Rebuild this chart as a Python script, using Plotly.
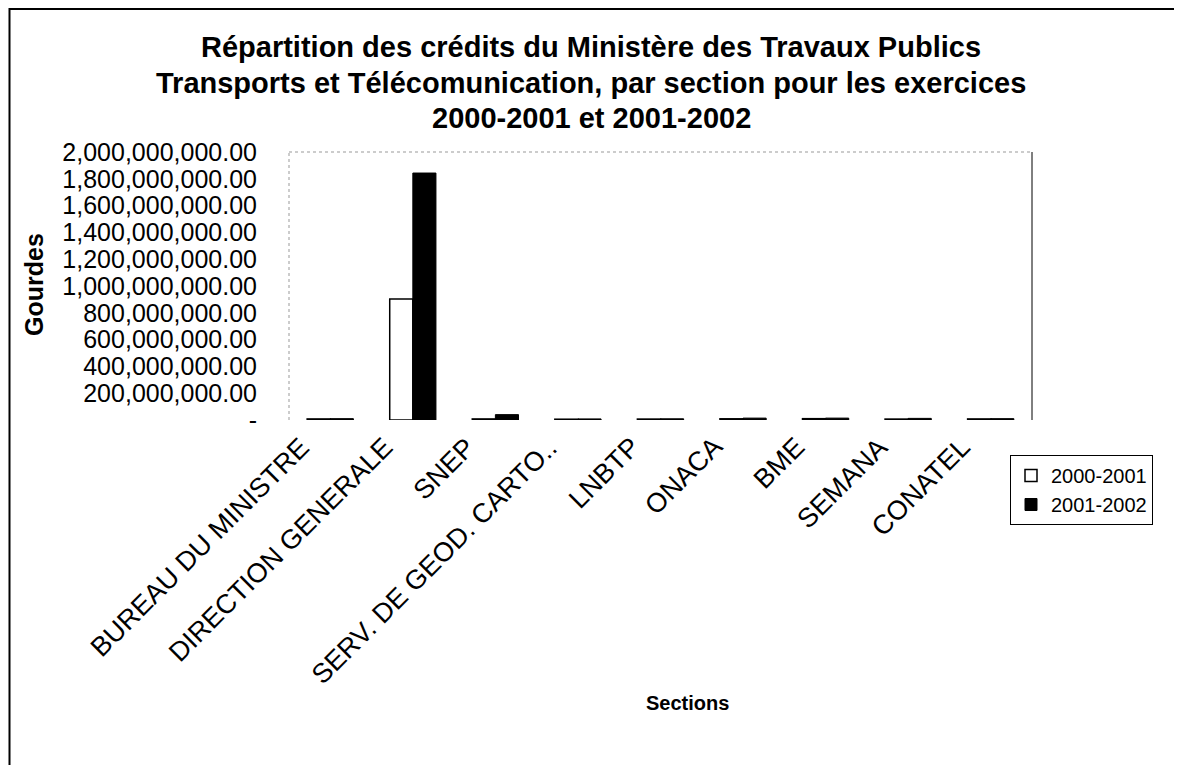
import plotly.graph_objects as go

sections = ["BUREAU DU MINISTRE", "DIRECTION GENERALE", "SNEP", "SERV. DE GEOD. CARTO..",
            "LNBTP", "ONACA", "BME", "SEMANA", "CONATEL"]
credits_2000_2001 = [8e6, 903e6, 8e6, 6e6, 7e6, 9e6, 10e6, 7e6, 8e6]
credits_2001_2002 = [10e6, 1843e6, 40e6, 8e6, 9e6, 14e6, 14e6, 12e6, 10e6]
y_ticks = [0, 2e8, 4e8, 6e8, 8e8, 1e9, 1.2e9, 1.4e9, 1.6e9, 1.8e9, 2e9]
y_tick_text = ["-"] + [f"{v:,.2f}" for v in y_ticks[1:]]
title_lines = ["Répartition des crédits du Ministère des Travaux Publics",
               "Transports et Télécomunication, par section pour les exercices",
               "2000-2001 et 2001-2002"]

OFF = 8  # default body margin of the html page
W, H = 1182 - 2 * OFF, 773 - 2 * OFF
# plot area in page pixels
L, R, T, B = 289, 1032, 152, 420

FONT = "Liberation Sans, Arial, sans-serif"

fig = go.Figure()
fig.add_trace(go.Bar(x=sections, y=credits_2000_2001, name="2000-2001",
                     marker=dict(color="white", line=dict(color="black", width=1.5))))
fig.add_trace(go.Bar(x=sections, y=credits_2001_2002, name="2001-2002",
                     marker=dict(color="black", line=dict(color="black", width=1))))

def px(x):
    return (x - L) / (R - L)

def py(y):
    return (B - y) / (B - T)

shapes = [
    dict(type="line", xref="paper", yref="paper", x0=px(9.5), x1=px(9.5), y0=py(8), y1=py(773),
         line=dict(color="black", width=2)),
    dict(type="line", xref="paper", yref="paper", x0=px(9), x1=px(1174), y0=py(9), y1=py(9),
         line=dict(color="black", width=2)),
    dict(type="line", xref="paper", yref="paper", x0=0, x1=1, y0=1, y1=1,
         line=dict(color="#999", width=1, dash="dot")),
    dict(type="line", xref="paper", yref="paper", x0=0, x1=0, y0=0, y1=1,
         line=dict(color="#999", width=1, dash="dot")),
    dict(type="line", xref="paper", yref="paper", x0=1, x1=1, y0=0, y1=1,
         line=dict(color="black", width=1)),
]

annotations = [
    dict(text="<b>Gourdes</b>", xref="paper", yref="paper", x=px(34), y=py(285),
         xanchor="center", yanchor="middle",
         textangle=-90, showarrow=False, font=dict(size=25)),
    dict(text="<b>Sections</b>", xref="paper", yref="paper", x=px(687), y=py(703),
         xanchor="center", yanchor="middle",
         showarrow=False, font=dict(size=20)),
]
for line, yc in zip(title_lines, [47, 83, 118]):
    annotations.append(dict(text=f"<b>{line}</b>", xref="paper", yref="paper",
                            x=px(591), y=py(yc), xanchor="center", yanchor="middle",
                            showarrow=False, font=dict(size=29)))
# category labels, rotated, anchored by their upper-right end below each category
for s in sections:
    annotations.append(dict(text=s, xref="x", yref="paper", x=s, y=0,
                            xanchor="right", yanchor="top", xshift=-12, yshift=-9,
                            textangle=-45, showarrow=False, font=dict(size=27)))

fig.update_layout(
    width=W, height=H,
    margin=dict(l=L - OFF, r=W - (R - OFF), t=T - OFF, b=H - (B - OFF), pad=0),
    paper_bgcolor="white", plot_bgcolor="white",
    font=dict(family=FONT, color="black"),
    barmode="group", bargap=0.44, bargroupgap=0,
    showlegend=True,
    legend=dict(x=px(1010), y=py(455), xanchor="left", yanchor="top",
                bordercolor="black", borderwidth=1, bgcolor="white",
                font=dict(size=20), itemwidth=30, tracegroupgap=0),
    shapes=shapes,
    annotations=annotations,
)
fig.update_yaxes(range=[0, 2e9], tickvals=y_ticks, ticktext=y_tick_text,
                 showgrid=False, zeroline=False, showline=False,
                 tickfont=dict(size=25), ticklabelstandoff=31, ticks="")
fig.update_xaxes(range=[-0.5, len(sections) - 0.5], autorange=False,
                 showticklabels=False, showgrid=False, showline=False, ticks="")

fig.write_html("out.html")
